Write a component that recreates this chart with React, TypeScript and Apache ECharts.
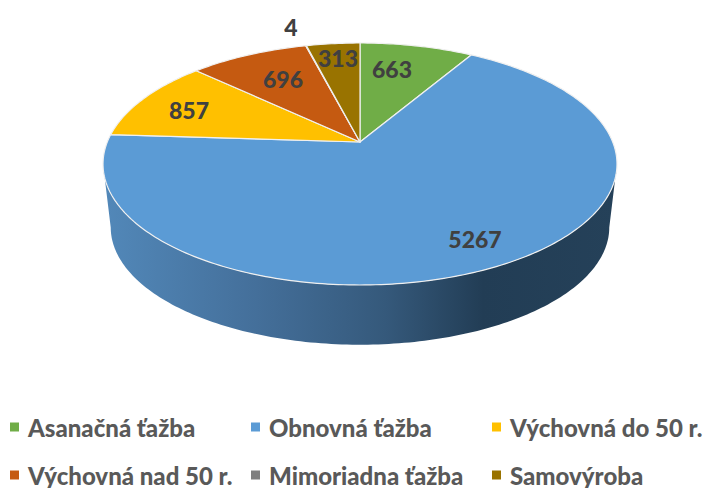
import React, { useEffect, useRef } from "react";
import * as echarts from "echarts";

const categories = ["Asanačná ťažba", "Obnovná ťažba", "Výchovná do 50 r.", "Výchovná nad 50 r.", "Mimoriadna ťažba", "Samovýroba"];
const values = [663, 5267, 857, 696, 4, 313];
const colors = ["#70ad47", "#5b9bd5", "#ffc000", "#c55a11", "#7f7f7f", "#997300"];
const labelAnchors = [[392, 69], [475, 239], [189, 110], [283, 79], [291, 27], [338, 58]];
const legendSpots = [[10, 428], [251, 428], [492, 428], [10, 476], [251, 476], [492, 476]];

// perspective projection of the pie's circular top
const CX = 360, CY = 142, A = 252.7, B = 117, K = 0.1818, DEPTH = 64;
const project = (deg: number, scale = 1, dy = 0): number[] => {
  const t = (deg * Math.PI) / 180;
  const u = Math.sin(t), v = Math.cos(t), d = 1 + K * v;
  return [CX + (scale * A * u) / d, CY + dy - (scale * B * v) / d];
};
const arcPoints = (a0: number, a1: number, scale = 1, dy = 0) => {
  const n = Math.max(2, Math.ceil(Math.abs(a1 - a0)));
  const out: number[][] = [];
  for (let i = 0; i <= n; i++) out.push(project(a0 + ((a1 - a0) * i) / n, scale, dy));
  return out;
};

const total = values.reduce((s, v) => s + v, 0);
const startAngle = (i: number) => (values.slice(0, i).reduce((s, v) => s + v, 0) / total) * 360;

const sideFill = new echarts.graphic.LinearGradient(0, 0, 1, 0, [
  { offset: 0, color: "#5288b9" },
  { offset: 0.3, color: "#446f9a" },
  { offset: 0.55, color: "#35597b" },
  { offset: 0.74, color: "#223d55" },
  { offset: 1, color: "#254159" },
]);

const makeSeries = (i: number) => ({
  type: "custom",
  name: categories[i],
  coordinateSystem: "none",
  color: colors[i],
  silent: true,
  data: [values[i]],
  renderItem: () => {
    const a0 = startAngle(i);
    const a1 = a0 + (values[i] / total) * 360;
    const children: any[] = [];
    if (i === 1) {
      const top = arcPoints(100.5, 259.5);
      const bottom = arcPoints(259.5, 100.5, 0.97, DEPTH);
      children.push({ type: "polygon", shape: { points: [...top, ...bottom] }, style: { fill: sideFill } });
    }
    children.push({
      type: "polygon",
      shape: { points: [[CX, CY], ...arcPoints(a0, a1)] },
      style: { fill: colors[i], stroke: "#f0f0f0", lineWidth: 1.2, lineJoin: "round" },
    });
    return { type: "group", children };
  },
});

const makeLabels = () => ({
  type: "custom",
  name: "labels",
  coordinateSystem: "none",
  silent: true,
  data: values,
  renderItem: (p: any) => ({
    type: "text",
    x: labelAnchors[p.dataIndex][0],
    y: labelAnchors[p.dataIndex][1],
    style: {
      text: String(values[p.dataIndex]),
      fill: "#404040",
      font: "900 23px Lato",
      align: "center",
      verticalAlign: "middle",
    },
  }),
});

export default function App() {
  const ref = useRef<HTMLDivElement>(null);
  useEffect(() => {
    const chart = echarts.init(ref.current!, undefined, { renderer: "svg" });
    chart.setOption({
      animation: false,
      backgroundColor: "#ffffff",
      legend: categories.map((name, i) => ({
        data: [{ name, icon: "rect" }],
        left: legendSpots[i][0],
        top: legendSpots[i][1] - 13,
        padding: 0,
        itemWidth: 9,
        itemHeight: 9,
        itemGap: 0,
        selectedMode: false,
        textStyle: { color: "#595959", fontFamily: "Lato", fontWeight: 900, fontSize: 24, lineHeight: 20, padding: [0, 0, 0, 4] },
      })),
      series: [...categories.map((_, i) => makeSeries(i)), makeLabels()],
    });
    return () => chart.dispose();
  }, []);
  return <div ref={ref} style={{ position: "fixed", left: 0, top: 0, width: 711, height: 488 }} />;
}
